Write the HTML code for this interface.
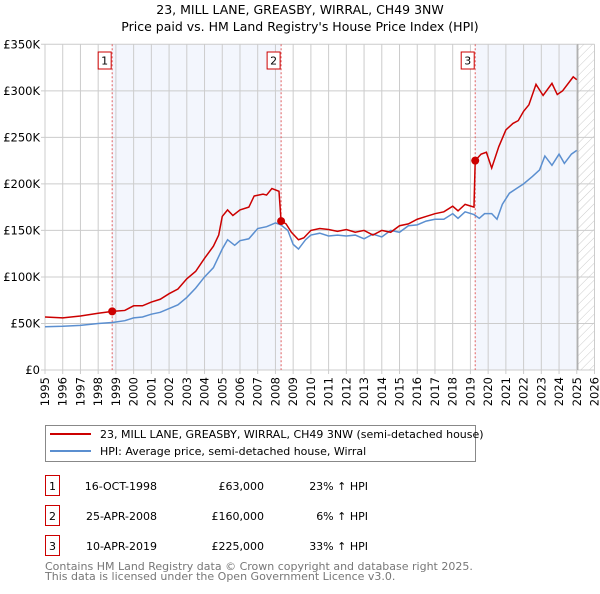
<!DOCTYPE html>
<html><head><meta charset="utf-8">
<style>
body{margin:0;background:#fff;width:600px;height:590px;overflow:hidden;font-family:"DejaVu Sans","Liberation Sans",sans-serif;}
svg text{font-family:"DejaVu Sans","Liberation Sans",sans-serif;}
</style></head>
<body>
<svg id="chart" width="600" height="590" xmlns="http://www.w3.org/2000/svg">
<defs>
<pattern id="hatch" patternUnits="userSpaceOnUse" width="6" height="6" patternTransform="rotate(45)">
<line x1="0" y1="0" x2="0" y2="6" stroke="#ccc" stroke-width="1"/>
</pattern>
</defs>
<text x="300" y="14" text-anchor="middle" font-size="12.5">23, MILL LANE, GREASBY, WIRRAL, CH49 3NW</text>
<text x="300" y="31" text-anchor="middle" font-size="12.5">Price paid vs. HM Land Registry's House Price Index (HPI)</text>
<g id="plot"></g>
<g>
<rect x="45.5" y="425.5" width="430" height="36" fill="#fff" stroke="#888"/>
<line x1="50" y1="434" x2="91" y2="434" stroke="#cc0000" stroke-width="2"/>
<text x="100" y="438" font-size="11">23, MILL LANE, GREASBY, WIRRAL, CH49 3NW (semi-detached house)</text>
<line x1="50" y1="451" x2="91" y2="451" stroke="#5b8fd0" stroke-width="2"/>
<text x="100" y="455" font-size="11">HPI: Average price, semi-detached house, Wirral</text>
</g>
<g id="table" font-size="11"></g>
<text x="45" y="570" font-size="11" fill="#777">Contains HM Land Registry data © Crown copyright and database right 2025.</text>
<text x="45" y="580" font-size="11" fill="#777">This data is licensed under the Open Government Licence v3.0.</text>
</svg>
<script>
const hpiYears=[1995,1996,1997,1998,1998.8,1999.5,2000,2000.5,2001,2001.5,2002,2002.5,2003,2003.5,2004,2004.5,2005,2005.3,2005.7,2006,2006.5,2007,2007.5,2008,2008.3,2008.7,2009,2009.3,2009.7,2010,2010.5,2011,2011.5,2012,2012.5,2013,2013.5,2014,2014.5,2015,2015.5,2016,2016.5,2017,2017.5,2018,2018.3,2018.7,2019.2,2019.5,2019.8,2020.2,2020.5,2020.8,2021.2,2021.6,2022,2022.5,2022.9,2023.2,2023.6,2024,2024.3,2024.7,2025];
const hpiValues=[46.5,47,48,50,51,53,56,57,60,62,66,70,78,88,100,110,130,140,134,139,141,152,154,158,156,150,135,130,140,145,147,144,145,144,145,141,146,143,150,148,155,156,160,162,162,168,163,170,167,163,168,168,162,178,190,195,200,208,215,230,220,232,222,232,236];
const priceYears=[1995,1996,1997,1998,1998.8,1999.5,2000,2000.5,2001,2001.5,2002,2002.5,2003,2003.5,2004,2004.5,2004.8,2005,2005.3,2005.6,2006,2006.5,2006.8,2007.3,2007.5,2007.8,2008.2,2008.32,2008.6,2008.9,2009.3,2009.6,2010,2010.5,2011,2011.5,2012,2012.5,2013,2013.5,2014,2014.5,2015,2015.5,2016,2016.5,2017,2017.5,2018,2018.3,2018.7,2019.2,2019.27,2019.6,2019.9,2020.2,2020.6,2021,2021.4,2021.7,2022,2022.3,2022.7,2023.1,2023.6,2023.9,2024.2,2024.8,2025];
const priceValues=[57,56,58,61,63,64,69,69,73,76,82,87,98,106,120,133,145,165,172,166,172,175,187,189,188,195,192,160,157,148,140,142,150,152,151,149,151,148,150,145,150,148,155,157,162,165,168,170,176,171,178,175,225,232,234,217,240,258,265,268,278,285,307,295,308,296,300,315,312];
const saleYears=[1998.79,2008.32,2019.27];
const saleValues=[63,160,225];
const saleLabels=["1","2","3"];
const saleDates=["16-OCT-1998","25-APR-2008","10-APR-2019"];
const salePrices=["£63,000","£160,000","£225,000"];
const saleHpi=["23% \u2191 HPI","6% \u2191 HPI","33% \u2191 HPI"];
const yTicks=[0,50,100,150,200,250,300,350];
const yTickLabels=["£0","£50K","£100K","£150K","£200K","£250K","£300K","£350K"];
const xTicks=[1995,1996,1997,1998,1999,2000,2001,2002,2003,2004,2005,2006,2007,2008,2009,2010,2011,2012,2013,2014,2015,2016,2017,2018,2019,2020,2021,2022,2023,2024,2025,2026];

const X0=45,X1=594.5,Y0=370,Y1=44.3;
const x=y=>X0+(y-1995)/(2026-1995)*(X1-X0);
const yv=v=>Y0-v/350*(Y0-Y1);
const NS="http://www.w3.org/2000/svg";
const plot=document.getElementById('plot');
function mk(tag,attrs,parent){const e=document.createElementNS(NS,tag);for(const k in attrs)e.setAttribute(k,attrs[k]);(parent||plot).appendChild(e);return e;}

let s1=mk('rect',{x:x(saleYears[0]),y:Y1,width:x(saleYears[1])-x(saleYears[0]),height:Y0-Y1,fill:'#f3f6fd'});


let s2=mk('rect',{x:x(saleYears[2]),y:Y1,width:x(2025.06)-x(saleYears[2]),height:Y0-Y1,fill:'#f3f6fd'});


let ht=mk('rect',{x:x(2025.06),y:Y1,width:X1-x(2025.06),height:Y0-Y1,fill:'url(#hatch)'});



xTicks.forEach(t=>{
  const g=mk('line',{x1:x(t),x2:x(t),y1:Y1,y2:Y0+4,stroke:'#ccc','stroke-width':1});
  
  
  const tx=mk('text',{x:0,y:0,'font-size':11.5,'text-anchor':'end',transform:`translate(${x(t)+4},${Y0+7}) rotate(-90)`});
  
  
  tx.textContent=t;
});
yTicks.forEach((t,i)=>{
  const g=mk('line',{x1:X0-4,x2:X1,y1:yv(t),y2:yv(t),stroke:'#ccc','stroke-width':1});
  
  
  const tx=mk('text',{x:X0-5,y:yv(t)+4,'font-size':11.5,'text-anchor':'end'});
  
  
  tx.textContent=yTickLabels[i];
});
const bl=mk('line',{x1:x(2025.06),x2:x(2025.06),y1:Y1,y2:Y0,stroke:'#999','stroke-width':1});



saleYears.forEach((s,i)=>{
  const l=mk('line',{x1:x(s),x2:x(s),y1:Y1,y2:Y0,stroke:'#e06060','stroke-width':1,'stroke-dasharray':'2,2'});
  
  
  const r=mk('rect',{x:x(s)-14,y:52,width:13,height:17,fill:'#fff',stroke:'#cc0000'});
  
  
  const t=mk('text',{x:x(s)-7.5,y:64.5,'font-size':11,'text-anchor':'middle'});
  
  
  t.textContent=saleLabels[i];
});

const hp=mk('polyline',{points:hpiYears.map((t,i)=>x(t)+','+yv(hpiValues[i])).join(' '),fill:'none',stroke:'#5b8fd0','stroke-width':1.5});


const pp=mk('polyline',{points:priceYears.map((t,i)=>x(t)+','+yv(priceValues[i])).join(' '),fill:'none',stroke:'#cc0000','stroke-width':1.5});


saleYears.forEach((s,i)=>{
  const c=mk('circle',{cx:x(s),cy:yv(saleValues[i]),r:4,fill:'#cc0000'});
  
  
});

const tb=document.getElementById('table');
saleLabels.forEach((lab,i)=>{
  const yy=475+i*30;
  const r=mk('rect',{x:45.5,y:yy+0.5,width:14,height:20,fill:'#fff',stroke:'#cc0000'},tb);
  
  
  const vals=[[52.5,'middle',lab],[157,'end',saleDates[i]],[264,'end',salePrices[i]],[368,'end',saleHpi[i]]];
  vals.forEach(v=>{
    const t=mk('text',{x:v[0],y:yy+15,'text-anchor':v[1]},tb);
    
    
    t.textContent=v[2];
  });
});
</script>
</body></html>
